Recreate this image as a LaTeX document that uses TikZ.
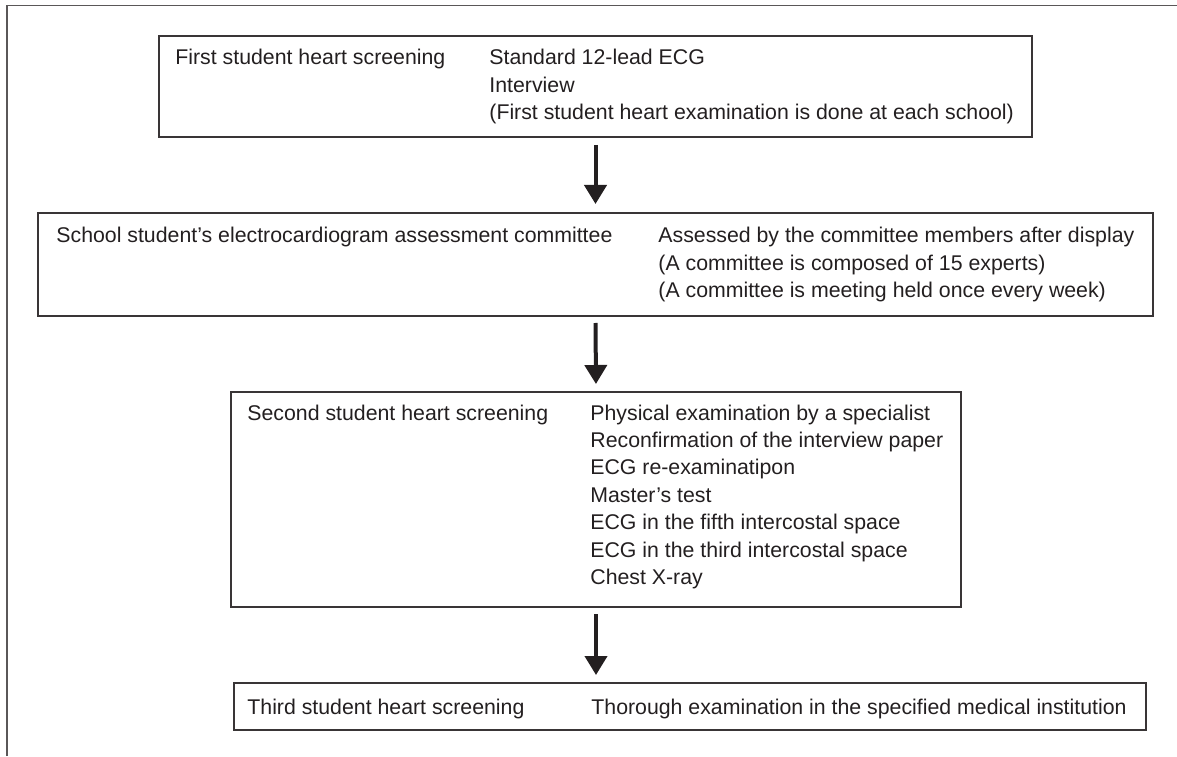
\documentclass[tikz,border=0pt]{standalone}
\usepackage{fontspec}
\setmainfont{Liberation Sans}
\usepackage{xcolor}
\usepackage{tikz}
\usetikzlibrary{arrows.meta,positioning,calc}
\definecolor{ink}{HTML}{231F20}
\newcommand{\stacked}[1]{\begin{tabular}[t]{@{}l@{}}#1\end{tabular}}
\tikzstyle{panel}=[rectangle, draw=ink!90, line width=0.6pt,
                   inner sep=0pt, outer sep=0pt]
\tikzstyle{label}=[inner sep=0pt, anchor=base west,
                   text=ink, font=\fontsize{10.65}{13.75}\selectfont]
\tikzstyle{flow} =[-{Triangle[width=11pt,length=9.5pt]}, draw=ink,
                   line width=2pt]

\begin{document}
\begin{tikzpicture}[x=0.5pt, y=0.5pt]
    \useasboundingbox (0,0) rectangle (1177,756);
    % outer frame
    \draw[ink!75, line width=0.75pt] (7,0) -- (7,750.5) -- (1177,750.5);
    % boxes
    \node[panel, minimum width=436.5pt, minimum height=50.5pt] (first) at (595.5,669.5) {};
    \node[panel, minimum width=557.5pt, minimum height=51.5pt] (committee) at (595.5,491.5) {};
    \node[panel, minimum width=365pt, minimum height=107.5pt] (second) at (596,256.5) {};
    \node[panel, minimum width=456pt, minimum height=23.5pt] (third) at (690,49.5) {};
    % texts
    \node[label] (firstL) at (175,691) {First student heart screening};
    \node[label] (firstR) at (489,691) {\stacked{Standard 12-lead ECG\\Interview\\(First student heart examination is done at each school)}};
    \node[label] (committeeL) at (56,513) {School student’s electrocardiogram assessment committee};
    \node[label] (committeeR) at (658,513) {\stacked{Assessed by the committee members after display\\(A committee is composed of 15 experts)\\(A committee is meeting held once every week)}};
    \node[label] (secondL) at (247,336) {Second student heart screening};
    \node[label] (secondR) at (590,336) {\stacked{Physical examination by a specialist\\Reconfirmation of the interview paper\\ECG re-examinatipon\\Master’s test\\ECG in the fifth intercostal space\\ECG in the third intercostal space\\Chest X-ray}};
    \node[label] (thirdL) at (247,42) {Third student heart screening};
    \node[label] (thirdR) at (591,42) {Thorough examination in the specified medical institution};
    % arrows
    \draw[flow, shorten <=4pt, shorten >=4.5pt] (first.south) -- (committee.north);
    \draw[flow, shorten <=3.5pt, shorten >=4pt] (committee.south) -- (second.north);
    \draw[flow, shorten <=3.5pt, shorten >=4pt] (second.south) -- (second.south |- third.north);
\end{tikzpicture}
\end{document}
